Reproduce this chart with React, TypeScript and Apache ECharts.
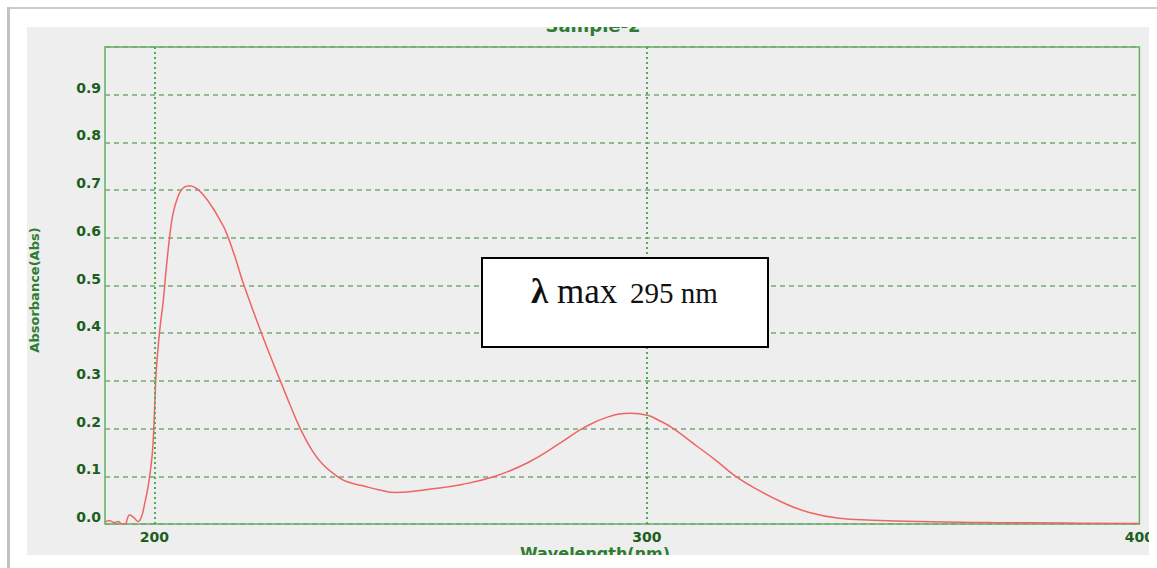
import React, { useEffect, useRef } from "react";
import * as echarts from "echarts";

// Wavelength (nm) and absorbance
const wavelength = [
  190, 190.7, 191.3, 191.7, 192.7, 193.4, 194.0, 195.0, 196.0, 196.7, 197.4, 198.0,
  198.7, 199.2, 199.7, 200.1, 200.4, 201.1, 201.8, 202.4, 203.1, 203.8, 204.8, 205.8,
  207.1, 208.5, 210.1, 211.8, 213.5, 214.5, 216.2, 217.9, 219.9, 221.7, 223.6, 225.6,
  227.6, 229.6, 232.0, 234.3, 237.0, 239.0, 242.4, 245.5, 249.1, 255.8, 262.5, 269.2,
  275.9, 282.6, 287.4, 292.0, 296.7, 300.1, 302.1, 305.1, 310.2, 314.2, 317.9, 322.3,
  327.6, 333.0, 339.0, 345.8, 355, 370, 385, 400,
];
const absorbance = [
  0.004, 0.007, 0.006, 0.003, 0.005, 0.0, 0.0, 0.019, 0.012, 0.005, 0.015, 0.04,
  0.075, 0.11, 0.16, 0.25, 0.32, 0.405, 0.465, 0.532, 0.6, 0.65, 0.686, 0.704,
  0.709, 0.704, 0.688, 0.664, 0.634, 0.614, 0.566, 0.51, 0.452, 0.402, 0.351, 0.3,
  0.249, 0.201, 0.155, 0.124, 0.101, 0.089, 0.08, 0.072, 0.066, 0.073, 0.083, 0.1,
  0.129, 0.171, 0.203, 0.224, 0.232, 0.228, 0.219, 0.202, 0.163, 0.132, 0.101, 0.073,
  0.045, 0.024, 0.012, 0.008, 0.005, 0.003, 0.002, 0.001,
];
const xTickLabels = [200, 300, 400];
const gridWavelengths = [200, 300];
const titleText = "Sample-2";
const xName = "Wavelength(nm)";
const yName = "Absorbance(Abs)";
const noteLambda = "λ";
const noteMax = "max";
const noteValue = "295 nm";

export default function App() {
  const ref = useRef<HTMLDivElement>(null);

  useEffect(() => {
    if (!ref.current) return;
    const chart = echarts.init(ref.current, undefined, { renderer: "svg" });
    const data = wavelength.map((w, i) => [w, absorbance[i]]);
    const labelFont = "DejaVu Sans";
    const green = "#2e7d32";
    chart.setOption({
      animation: false,
      backgroundColor: "transparent",
      grid: {
        left: 105,
        right: 13,
        top: 47,
        bottom: 44,
        show: true,
        borderColor: "#62b062",
        borderWidth: 1.5,
        backgroundColor: "transparent",
      },
      xAxis: {
        type: "value",
        min: 190,
        max: 400,
        interval: 10,
        axisLine: { show: false },
        axisTick: { show: false },
        splitLine: { show: false },
        axisLabel: {
          margin: 6,
          showMaxLabel: true,
          showMinLabel: true,
          color: "#1b5e20",
          fontFamily: labelFont,
          fontWeight: "bold",
          fontSize: 14,
          formatter: (v: number) => (xTickLabels.includes(Math.round(v)) ? String(Math.round(v)) : ""),
        },
      },
      yAxis: {
        type: "value",
        min: 0,
        max: 1,
        interval: 0.1,
        axisLine: { show: false },
        axisTick: { show: false },
        splitLine: {
          show: true,
          lineStyle: { color: "#78a878", width: 1.5, type: [5, 4] },
        },
        axisLabel: {
          margin: 4,
          verticalAlign: "bottom",
          color: "#1b5e20",
          fontFamily: labelFont,
          fontWeight: "bold",
          fontSize: 14,
          formatter: (v: number) => (v > 0.95 ? "" : v.toFixed(1)),
        },
      },
      series: [
        {
          type: "line",
          data,
          showSymbol: false,
          smooth: 0.45,
          lineStyle: { color: "#ef6464", width: 1.5 },
          markLine: {
            silent: true,
            symbol: ["none", "none"],
            label: { show: false },
            lineStyle: { color: "#4caf50", width: 2, type: [2, 3] },
            data: gridWavelengths.map((w) => ({ xAxis: w })),
          },
        },
      ],
      graphic: [
        {
          type: "text",
          z: 50,
          x: 593,
          y: 25,
          style: {
            text: titleText,
            align: "center",
            verticalAlign: "middle",
            font: "bold 18px DejaVu Sans",
            fill: green,
          },
        },
        {
          type: "text",
          z: 50,
          x: 595,
          y: 545,
          style: {
            text: xName,
            align: "center",
            verticalAlign: "top",
            font: "bold 16px DejaVu Sans",
            fill: green,
          },
        },
        {
          type: "text",
          z: 50,
          x: 34,
          y: 290,
          rotation: Math.PI / 2,
          style: {
            text: yName,
            align: "center",
            verticalAlign: "middle",
            font: "bold 13px DejaVu Sans",
            fill: green,
          },
        },
        // white margins clipping the title, axis name and last tick label
        { type: "rect", z: 100, shape: { x: 27, y: 10, width: 1122, height: 17 }, style: { fill: "#ffffff" } },
        { type: "rect", z: 100, shape: { x: 27, y: 555, width: 1130, height: 13 }, style: { fill: "#ffffff" } },
        { type: "rect", z: 100, shape: { x: 1149, y: 10, width: 8, height: 558 }, style: { fill: "#ffffff" } },
        // annotation box
        {
          type: "rect",
          z: 60,
          shape: { x: 482, y: 258, width: 286, height: 89 },
          style: { fill: "#ffffff", stroke: "#000000", lineWidth: 2 },
        },
        {
          type: "text",
          z: 61,
          x: 531,
          y: 291.5,
          style: {
            text: noteLambda,
            align: "left",
            verticalAlign: "middle",
            font: "bold 35px Liberation Serif",
            fill: "#111111",
          },
        },
        {
          type: "text",
          z: 61,
          x: 557,
          y: 291.5,
          style: {
            text: noteMax,
            align: "left",
            verticalAlign: "middle",
            font: "35px Liberation Serif",
            fill: "#111111",
          },
        },
        {
          type: "text",
          z: 61,
          x: 630,
          y: 293.2,
          style: {
            text: noteValue,
            align: "left",
            verticalAlign: "middle",
            font: "29px Liberation Serif",
            fill: "#111111",
          },
        },
      ],
    });
    return () => chart.dispose();
  }, []);

  return (
    <div style={{ position: "fixed", left: 0, top: 0, width: 1157, height: 568, background: "#ffffff", overflow: "hidden" }}>
      <div style={{ position: "absolute", left: 8, top: 7, width: 1149, height: 2, background: "#cccccc" }} />
      <div style={{ position: "absolute", left: 7, top: 7, width: 3, height: 561, background: "#c2c2c2" }} />
      <div style={{ position: "absolute", left: 27, top: 27, width: 1122, height: 528, background: "#eeeeee" }} />
      <div ref={ref} style={{ position: "absolute", left: 0, top: 0, width: 1157, height: 568 }} />
    </div>
  );
}
